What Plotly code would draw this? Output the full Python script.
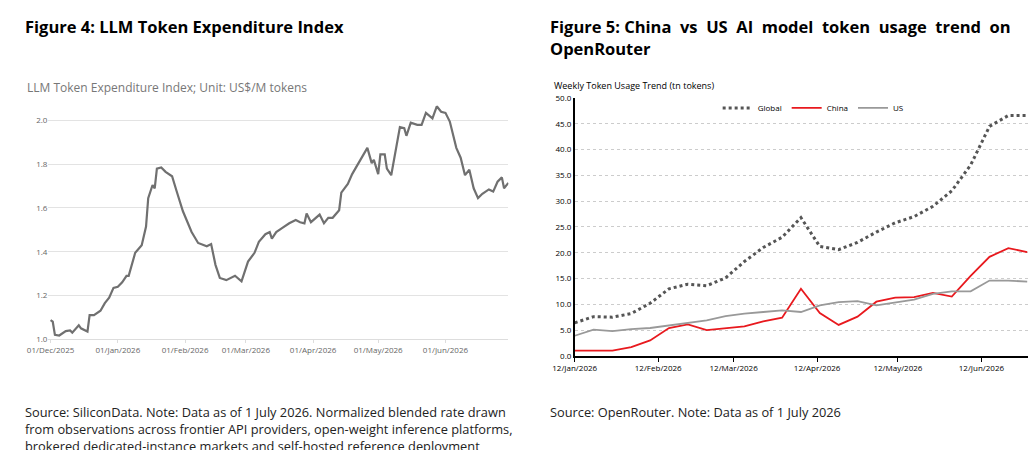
import pandas as pd
import plotly.graph_objects as go

# Figure 4: LLM token expenditure index (days since 01/Dec/2025, US$/M tokens)
idx_days = [0, 1, 2, 4, 7, 9, 10, 12, 13, 14, 17, 18, 20, 23, 25, 27, 29, 31, 33, 35,
            36, 39, 42, 44, 45, 47, 48, 49, 51, 53, 56, 58, 61, 65, 68, 72, 74, 76, 78, 81,
            85, 88, 91, 94, 96, 99, 101, 102, 104, 107, 110, 113, 115, 117, 118, 120, 124,
            126, 128, 130, 133, 134, 137, 139, 142, 144, 146, 148, 149, 151, 152, 154, 155,
            157, 159, 161, 163, 164, 166, 169, 171, 173, 176, 178, 180, 182, 184, 187, 189,
            191, 193, 195, 197, 199, 202, 204, 206, 208, 209, 211]
idx_vals = [1.087, 1.08, 1.02, 1.017, 1.037, 1.04, 1.03, 1.055, 1.064, 1.05, 1.035, 1.11,
            1.11, 1.13, 1.165, 1.19, 1.235, 1.24, 1.26, 1.29, 1.29, 1.395, 1.43, 1.515, 1.645,
            1.705, 1.69, 1.78, 1.785, 1.765, 1.745, 1.68, 1.585, 1.49, 1.44, 1.425, 1.435,
            1.34, 1.28, 1.27, 1.29, 1.265, 1.355, 1.395, 1.445, 1.48, 1.49, 1.46, 1.49, 1.51,
            1.53, 1.545, 1.535, 1.53, 1.575, 1.535, 1.57, 1.53, 1.555, 1.555, 1.59, 1.67,
            1.71, 1.755, 1.805, 1.835, 1.875, 1.805, 1.82, 1.755, 1.845, 1.845, 1.78, 1.75,
            1.865, 1.97, 1.965, 1.93, 1.99, 1.98, 1.98, 2.035, 2.01, 2.065, 2.04, 2.035,
            1.995, 1.875, 1.83, 1.75, 1.775, 1.69, 1.645, 1.665, 1.685, 1.675, 1.72, 1.74,
            1.69, 1.715]
idx_dates = pd.Timestamp("2025-12-01") + pd.to_timedelta(idx_days, unit="D")

# Figure 5: weekly token usage (tn tokens), weeks from 12/Jan/2026
weeks = pd.date_range("2026-01-12", periods=25, freq="7D")
global_usage = [6.4, 7.6, 7.5, 8.2, 10.2, 13.0, 13.9, 13.6, 15.1, 18.3, 21.0, 23.0, 26.8,
                21.2, 20.6, 22.0, 24.0, 25.8, 27.0, 29.0, 32.0, 37.0, 44.5, 46.6, 46.6]
china_usage = [1.0, 1.0, 1.0, 1.7, 3.0, 5.4, 6.1, 5.0, 5.3, 5.7, 6.7, 7.4, 13.0, 8.3, 6.0,
               7.6, 10.5, 11.3, 11.4, 12.2, 11.5, 15.5, 19.2, 20.9, 20.1]
us_usage = [3.9, 5.1, 4.8, 5.2, 5.4, 5.9, 6.3, 6.9, 7.7, 8.2, 8.5, 8.8, 8.5, 9.8, 10.4,
            10.6, 9.8, 10.3, 10.9, 12.0, 12.5, 12.5, 14.6, 14.6, 14.4]

FONT = "Open Sans"
fig = go.Figure()
fig.add_trace(go.Scatter(x=idx_dates, y=idx_vals, mode="lines", showlegend=False,
                         line=dict(color="#707070", width=2.2), xaxis="x", yaxis="y"))
fig.add_trace(go.Scatter(x=weeks, y=global_usage, name="Global", mode="lines",
                         line=dict(color="#555555", width=3, dash="dot"), xaxis="x2", yaxis="y2"))
fig.add_trace(go.Scatter(x=weeks, y=china_usage, name="China", mode="lines",
                         line=dict(color="#e8191e", width=1.8), xaxis="x2", yaxis="y2"))
fig.add_trace(go.Scatter(x=weeks, y=us_usage, name="US", mode="lines",
                         line=dict(color="#999999", width=1.8), xaxis="x2", yaxis="y2"))

tickf = dict(family=FONT, size=8, color="#666666")
fig.update_layout(
    width=1036, height=450, margin=dict(l=0, r=0, t=0, b=0, autoexpand=False),
    paper_bgcolor="white", plot_bgcolor="white", font=dict(family=FONT),
    xaxis=dict(domain=[0.039, 0.483], anchor="y", type="date", automargin=False,
               range=["2025-11-30", "2026-06-30"], tickformat="%d/%b/%Y",
               tickvals=pd.date_range("2025-12-01", periods=7, freq="MS"),
               showgrid=False, showline=True, linecolor="#dddddd",
               ticks="outside", ticklen=3, tickcolor="#dddddd", tickfont=tickf),
    yaxis=dict(domain=[0.264, 0.784], anchor="x", range=[1.0, 2.07], dtick=0.2,
               tickformat=".1f", showgrid=True, gridcolor="#e3e3e3", zeroline=False,
               tickfont=tickf, automargin=False),
    xaxis2=dict(domain=[0.547, 0.989], anchor="y2", type="date", automargin=False,
                range=["2026-01-12", "2026-07-01"], tickformat="%d/%b/%Y",
                tick0="2026-01-12", dtick="M1", showgrid=False, showline=True,
                linecolor="black", linewidth=1.5, ticks="outside", ticklen=4,
                tickcolor="black", tickfont=dict(family=FONT, size=8, color="black")),
    yaxis2=dict(domain=[0.227, 0.8], anchor="x2", range=[0, 50], dtick=5,
                tickformat=".1f", showgrid=True, gridcolor="#cccccc", griddash="dot",
                showline=True, linecolor="black", linewidth=1.5, zeroline=False,
                tickfont=dict(family=FONT, size=8, color="black"), automargin=False),
    legend=dict(orientation="h", x=0.685, y=0.778, xanchor="left", yanchor="middle",
                font=dict(family=FONT, size=8, color="black"), bgcolor="rgba(0,0,0,0)",
                itemwidth=30),
)

annots = [
    dict(x=15, y=18, text="<b>Figure 4: LLM Token Expenditure Index</b>", size=16.5, color="black"),
    dict(x=17, y=79, text="LLM Token Expenditure Index; Unit: US$/M tokens", size=12, color="#777777"),
    dict(x=540, y=18, text="<b>Figure 5: China  vs  US  AI  model  token  usage  trend  on</b>",
         size=16.5, color="black"),
    dict(x=540, y=40, text="<b>OpenRouter</b>", size=16.5, color="black"),
    dict(x=544, y=77, text="Weekly Token Usage Trend (tn tokens)", size=9, color="black"),
    dict(x=15, y=404, text="Source: SiliconData. Note: Data as of 1 July 2026. Normalized blended rate drawn",
         size=12.8, color="#222222"),
    dict(x=15, y=421, text="from observations across frontier API providers, open-weight inference platforms,",
         size=12.8, color="#222222"),
    dict(x=15, y=438, text="brokered dedicated-instance markets and self-hosted reference deployment",
         size=12.8, color="#222222"),
    dict(x=540, y=404, text="Source: OpenRouter. Note: Data as of 1 July 2026", size=12.8, color="#222222"),
]
for a in annots:
    fig.add_annotation(xref="paper", yref="paper", x=a["x"] / 1036, y=1 - a["y"] / 450,
                       xanchor="left", yanchor="middle", showarrow=False, text=a["text"],
                       font=dict(family=FONT, size=a["size"], color=a["color"]))

fig.write_html("out.html")
